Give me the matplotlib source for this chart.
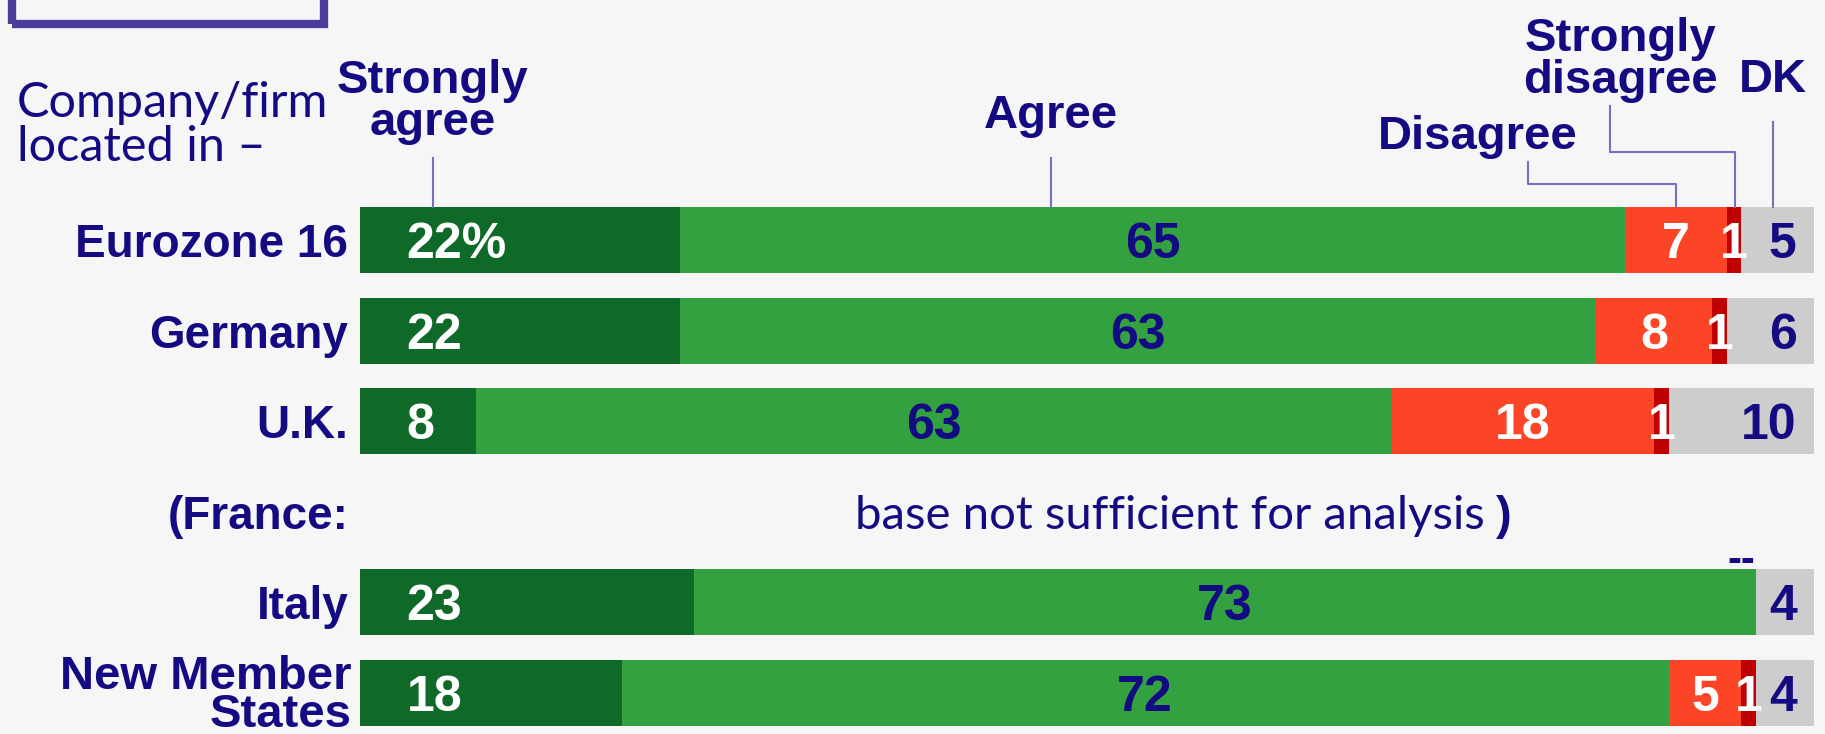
import matplotlib
matplotlib.use('Agg')
import matplotlib.pyplot as plt
from matplotlib.patches import Rectangle

# data
rows = ['Eurozone 16', 'Germany', 'U.K.', '(France:', 'Italy', 'New Member\nStates']
strongly_agree = [22, 22, 8, None, 23, 18]
agree = [65, 63, 63, None, 73, 72]
disagree = [7, 8, 18, None, 0, 5]
strongly_disagree = [1, 1, 1, None, 0, 1]
dk = [5, 6, 10, None, 4, 4]
sa_labels = ['22%', '22', '8', '', '23', '18']

NAVY = '#140a82'
LINE = '#7571bd'
C_SA = '#0f6a2a'
C_A = '#34a141'
C_D = '#fc4526'
C_SD = '#c00000'
C_DK = '#cdcdcd'
BG = '#f6f6f6'

BOLD = ['Liberation Sans Narrow', 'Liberation Sans', 'DejaVu Sans']
LIGHT = ['Lato', 'DejaVu Sans']
NUM = 36

fig = plt.figure(figsize=(18.25, 7.34), dpi=100, facecolor=BG)
ax = fig.add_axes([0, 0, 1, 1])
ax.set_facecolor(BG)
px = 1454 / 100.0          # pixels per percent
ax.set_xlim(-360 / px, (1825 - 360) / px)
ypx = 90.6
ax.set_ylim(5 + 41 / ypx, -240 / ypx)
ax.axis('off')

h = 66 / ypx
for i, name in enumerate(rows):
    if strongly_agree[i] is None:
        continue
    segs = [strongly_agree[i], agree[i], disagree[i], strongly_disagree[i], dk[i]]
    cols = [C_SA, C_A, C_D, C_SD, C_DK]
    left = 0
    for v, c in zip(segs, cols):
        if v:
            ax.barh(i, v, left=left, height=h, color=c, edgecolor='none')
        left += v
    # value labels
    ax.text(3.2, i, sa_labels[i], color='white', fontsize=NUM, fontweight='bold',
            family=BOLD, va='center_baseline', ha='left')
    ax.text(strongly_agree[i] + agree[i] / 2, i, str(agree[i]), color=NAVY,
            fontsize=NUM, fontweight='bold', family=BOLD, va='center_baseline',
            ha='center')
    start_d = strongly_agree[i] + agree[i]
    if disagree[i]:
        ax.text(start_d + disagree[i] / 2, i, str(disagree[i]), color='white',
                fontsize=NUM, fontweight='bold', family=BOLD,
                va='center_baseline', ha='center')
    end_d = start_d + disagree[i]
    if strongly_disagree[i]:
        ax.text(end_d + strongly_disagree[i] / 2, i, str(strongly_disagree[i]),
                color='white', fontsize=NUM, fontweight='bold', family=BOLD,
                va='center_baseline', ha='center')
    ax.text(98.8, i, str(dk[i]), color=NAVY, fontsize=NUM, fontweight='bold',
            family=BOLD, va='center_baseline', ha='right')

# row labels
for i, name in enumerate(rows):
    if '\n' in name:
        ax.text(-0.6, i + 0.03, name, color=NAVY, fontsize=34, fontweight='bold',
                family=BOLD, va='center', ha='right', linespacing=0.82)
    else:
        ax.text(-0.8, i, name, color=NAVY, fontsize=33, fontweight='bold',
                family=BOLD, va='center_baseline', ha='right')

ax.text(55.7, 3, 'base not sufficient for analysis', color=NAVY, fontsize=34,
        family=LIGHT, va='center_baseline', ha='center')
ax.text(78.1, 3, ')', color=NAVY, fontsize=34, fontweight='bold',
        family=BOLD, va='center_baseline', ha='left')
ax.text(95.0, 3.54, '--', color=NAVY, fontsize=30, fontweight='bold',
        family=BOLD, va='center', ha='center')

ax.text(-23.6, -1.27, 'Company/firm\nlocated in \u2013', color=NAVY, fontsize=35,
        family=LIGHT, va='center', ha='left', linespacing=1.0)

# column headers with leader lines
def y_of(p):
    return (p - 240) / ypx

ax.text(5.0, y_of(102), 'Strongly\nagree', color=NAVY, fontsize=34, fontweight='bold',
        family=BOLD, va='center', ha='center', linespacing=0.95)
ax.plot([5.0, 5.0], [y_of(158), y_of(207)], color=LINE, lw=1.5)

ax.text(47.5, y_of(116), 'Agree', color=NAVY, fontsize=34, fontweight='bold',
        family=BOLD, va='center', ha='center')
ax.plot([47.5, 47.5], [y_of(158), y_of(207)], color=LINE, lw=1.5)

ax.text(76.9, y_of(137), 'Disagree', color=NAVY, fontsize=34, fontweight='bold',
        family=BOLD, va='center', ha='center')
ax.plot([80.3, 80.3, 90.5, 90.5], [y_of(162), y_of(184), y_of(184), y_of(207)],
        color=LINE, lw=1.5)

ax.text(86.7, y_of(60), 'Strongly\ndisagree', color=NAVY, fontsize=34,
        fontweight='bold', family=BOLD, va='center', ha='center', linespacing=0.95)
ax.plot([86.0, 86.0, 94.6, 94.6], [y_of(106), y_of(152), y_of(152), y_of(207)],
        color=LINE, lw=1.5)

ax.text(97.2, y_of(80), 'DK', color=NAVY, fontsize=34, fontweight='bold',
        family=BOLD, va='center', ha='center')
ax.plot([97.2, 97.2], [y_of(122), y_of(207)], color=LINE, lw=1.5)

# partly visible box at the top-left
fig.patches.append(Rectangle((12 / 1825, 1 - 24 / 734), 312 / 1825, 0.2,
                             transform=fig.transFigure, fill=False,
                             edgecolor='#4b3d9c', lw=6))

fig.savefig('out.png', dpi=100, facecolor=BG)
